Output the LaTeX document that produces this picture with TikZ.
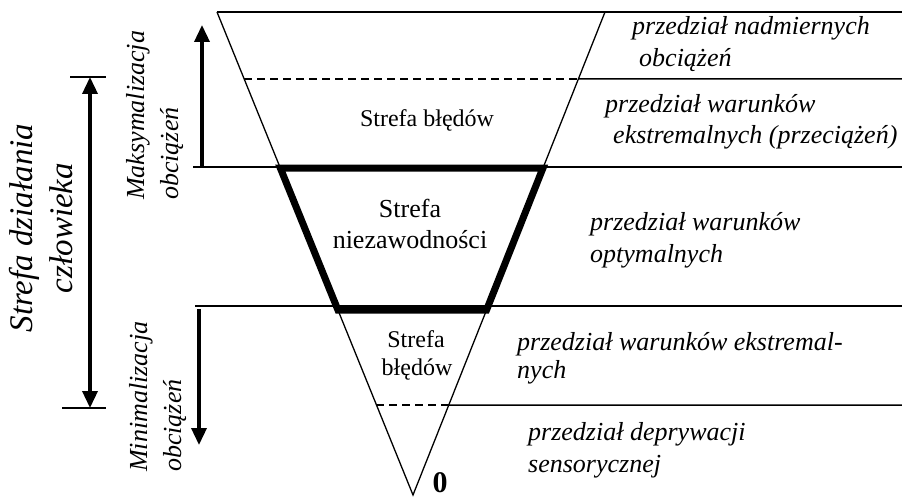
\documentclass[tikz,border=0pt]{standalone}
\usepackage{fontspec}
\setmainfont{Liberation Serif}
\usetikzlibrary{arrows.meta,calc}
\begin{document}
\begin{tikzpicture}[x=1pt,y=-1pt,
  thin line/.style={line width=1.5pt},
  zone edge/.style={line width=1.3pt},
  dash line/.style={line width=1.5pt, dash pattern=on 8pt off 5pt},
  bold frame/.style={line width=7pt, line join=miter},
  big arrow/.style={line width=3.5pt, -{Triangle[width=15pt,length=17pt]}},
  both arrow/.style={line width=3.5pt, {Triangle[width=15pt,length=17pt]}-{Triangle[width=15pt,length=17pt]}},
  label/.style={font=\fontsize{26}{30}\selectfont\itshape, inner sep=0pt, anchor=base west},
  side label/.style={font=\fontsize{26}{30}\selectfont\itshape, inner sep=0pt, anchor=base west, rotate=90},
  zone/.style={font=\fontsize{24}{28}\selectfont, inner sep=0pt, anchor=base},
  zone big/.style={font=\fontsize{26}{30}\selectfont, inner sep=0pt, anchor=base},
]
\useasboundingbox (0,0) rectangle (902,497);

% funnel outline
\coordinate (tl) at (217,12);
\coordinate (tr) at (605,12);
\coordinate (apex) at (413,495);
\draw[zone edge] (tl) -- (apex) -- (tr);

% level lines
\coordinate (e0) at (902,12);
\draw[thin line] (tl) -- (e0);

\coordinate (l1) at ($(tl)!0.1387!(apex)$);
\coordinate (r1) at ($(tr)!0.1387!(apex)$);
\coordinate (e1) at (902,79);
\draw[dash line] (l1) -- (r1);
\draw[thin line] (r1) -- (e1);

\coordinate (s2) at (193,167);
\coordinate (e2) at (902,167);
\draw[thin line] (s2) -- (e2);

\coordinate (s3) at (195,306);
\coordinate (e3) at (902,306);
\draw[thin line] (s3) -- (e3);

\coordinate (l4) at ($(tl)!0.8137!(apex)$);
\coordinate (r4) at ($(tr)!0.8137!(apex)$);
\coordinate (e4) at (902,405);
\draw[dash line] (l4) -- (r4);
\draw[thin line] (r4) -- (e4);

% reliability zone frame
\coordinate (q1) at ($(tl)!0.323!(apex)$);
\coordinate (q2) at ($(tr)!0.323!(apex)$);
\coordinate (q3) at ($(tr)!0.617!(apex)$);
\coordinate (q4) at ($(tl)!0.617!(apex)$);
\draw[bold frame] (q1) -- (q2) -- (q3) -- (q4) -- cycle;

% load arrows
\coordinate (maxs) at (202,167);
\coordinate (maxe) at (202,25);
\draw[big arrow] (maxs) -- (maxe);
\coordinate (mins) at (199,309);
\coordinate (mine) at (199,445);
\draw[big arrow] (mins) -- (mine);

% range of human activity
\coordinate (ha) at (90,77);
\coordinate (hb) at (90,408);
\draw[both arrow] (ha) -- (hb);
\coordinate (ta1) at (70,77);
\coordinate (ta2) at (106,77);
\coordinate (tb1) at (62,408);
\coordinate (tb2) at (106,408);
\draw[thin line] (ta1) -- (ta2);
\draw[thin line] (tb1) -- (tb2);

\node[font=\fontsize{33}{38}\selectfont\itshape, inner sep=0pt, anchor=base, rotate=90] (hz1) at (32,228) {Strefa działania};
\node[font=\fontsize{33}{38}\selectfont\itshape, inner sep=0pt, anchor=base, rotate=90] (hz2) at (72,228) {człowieka};

\node[side label] (mx1) at (144,200) {Maksymalizacja};
\node[side label] (mx2) at (178,200) {obciążeń};
\node[side label] (mn1) at (147,472) {Minimalizacja};
\node[side label] (mn2) at (181,472) {obciążeń};

% zone names
\node[zone] (err1) at (427,127) {Strefa błędów};
\node[zone big] (rel1) at (410,218) {Strefa};
\node[zone big] (rel2) at (410,248) {niezawodności};
\node[zone] (err2a) at (416,347) {Strefa};
\node[zone] (err2b) at (417,375) {błędów};
\node[font=\fontsize{30}{34}\selectfont\bfseries, inner sep=0pt, anchor=base] (zero) at (440,492) {0};

% condition ranges
\node[label] (p1a) at (632,35) {przedział nadmiernych};
\node[label] (p1b) at (639,67) {obciążeń};
\node[label] (p2a) at (605,113) {przedział warunków};
\node[label] (p2b) at (613,144) {ekstremalnych (przeciążeń)};
\node[label] (p3a) at (590,230) {przedział warunków};
\node[label] (p3b) at (590,262) {optymalnych};
\node[label] (p4a) at (517,350) {przedział warunków ekstremal-};
\node[label] (p4b) at (517,378) {nych};
\node[label] (p5a) at (528,440) {przedział deprywacji};
\node[label] (p5b) at (528,472) {sensorycznej};
\end{tikzpicture}
\end{document}
